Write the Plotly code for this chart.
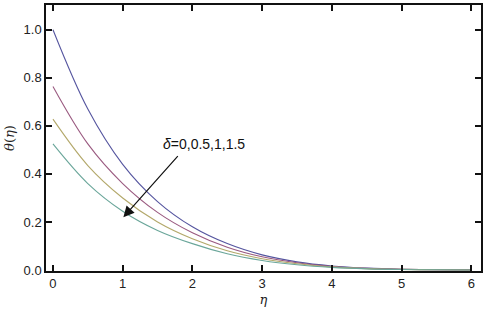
import plotly.graph_objects as go

eta = [0, 0.5, 1, 1.5, 2, 2.5, 3, 3.5, 4, 4.5, 5, 5.5, 6]
theta_d0 = [1.0, 0.67, 0.44, 0.285, 0.18, 0.11, 0.063, 0.034, 0.017, 0.008, 0.0035, 0.0015, 0.0006]
theta_d05 = [0.764, 0.525, 0.36, 0.24, 0.155, 0.095, 0.055, 0.030, 0.015, 0.007, 0.003, 0.0013, 0.0005]
theta_d1 = [0.628, 0.435, 0.30, 0.20, 0.13, 0.080, 0.047, 0.026, 0.013, 0.006, 0.0027, 0.0011, 0.0004]
theta_d15 = [0.525, 0.36, 0.245, 0.165, 0.11, 0.068, 0.040, 0.022, 0.011, 0.005, 0.0023, 0.001, 0.0004]
series = [theta_d0, theta_d05, theta_d1, theta_d15]
names = ["δ=0", "δ=0.5", "δ=1", "δ=1.5"]
colors = ["#55559f", "#9a5a80", "#b3a86a", "#6aa69a"]

x_range = [-0.1, 6.14]
y_range = [-0.004, 1.103]

fig = go.Figure()
for ys, nm, c in zip(series, names, colors):
    fig.add_trace(go.Scatter(x=eta, y=ys, mode="lines", name=nm,
                             line=dict(color=c, width=1.1, shape="spline", smoothing=1.0)))

fig.add_annotation(x=1.01, y=0.22, ax=1.81, ay=0.48, xref="x", yref="y", axref="x", ayref="y",
                   showarrow=True, arrowhead=2, arrowsize=1.8, arrowwidth=1.2, arrowcolor="#111", text="")
fig.add_annotation(x=2.17, y=0.525, xref="x", yref="y", showarrow=False,
                   text="<i>δ</i>=0,0.5,1,1.5", font=dict(size=14, color="#111", family="Liberation Sans"))

fig.update_xaxes(range=x_range, tickmode="linear", dtick=1, tick0=0,
                 showline=True, linecolor="#111", linewidth=1.5, mirror="ticks",
                 ticks="inside", ticklen=6, tickwidth=1.5, tickcolor="#111",
                 showgrid=False, zeroline=False,
                 tickfont=dict(size=13, color="#222", family="Liberation Sans"),
                 title=dict(text="<i>η</i>", font=dict(size=13, family="DejaVu Serif", color="#222"), standoff=5))
fig.update_yaxes(range=y_range, tickmode="linear", dtick=0.2, tick0=0, tickformat=".1f",
                 showline=True, linecolor="#111", linewidth=1.5, mirror="ticks",
                 ticks="inside", ticklen=6, tickwidth=1.5, tickcolor="#111",
                 showgrid=False, zeroline=False,
                 tickfont=dict(size=13, color="#222", family="Liberation Sans"),
                 title=dict(text="<i>θ</i>(<i>η</i>)", font=dict(size=13, family="DejaVu Serif", color="#222"), standoff=6))

# secondary overlaid axes used only for minor tick marks
fig.update_layout(
    xaxis2=dict(overlaying="x", anchor="y", side="bottom", range=x_range, tickmode="linear",
                dtick=0.2, tick0=0, ticks="inside", ticklen=3, tickwidth=1.2, tickcolor="#111",
                showline=True, linecolor="#111", linewidth=1.5, mirror="ticks",
                showticklabels=False, showgrid=False, zeroline=False, fixedrange=True),
    yaxis2=dict(overlaying="y", anchor="x", side="left", range=y_range, tickmode="linear",
                dtick=0.05, tick0=0, ticks="inside", ticklen=3, tickwidth=1.2, tickcolor="#111",
                showline=True, linecolor="#111", linewidth=1.5, mirror="ticks",
                showticklabels=False, showgrid=False, zeroline=False, fixedrange=True),
)

fig.update_layout(width=486, height=311, margin=dict(l=46, r=3, t=3, b=40),
                  plot_bgcolor="white", paper_bgcolor="white", showlegend=False)

fig.write_html("out.html", config={"displayModeBar": False},
               post_script="document.body.style.margin='0px';document.body.style.overflow='hidden';")
